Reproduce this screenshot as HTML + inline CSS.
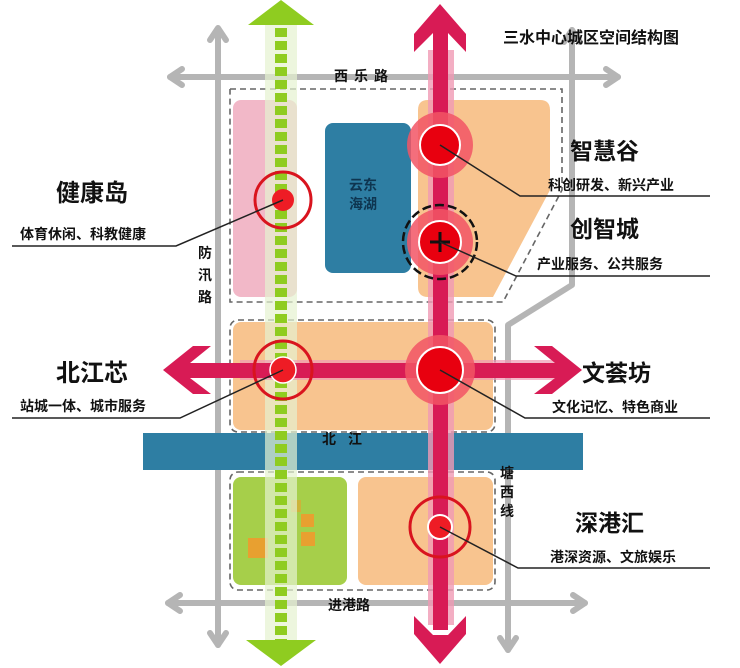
<!DOCTYPE html>
<html><head><meta charset="utf-8"><style>
body{margin:0;background:#fff;}
svg{display:block;font-family:"Liberation Sans","Noto Sans CJK SC",sans-serif;}
.b{font-weight:bold;fill:#111;}
</style></head><body>
<svg width="740" height="668" viewBox="0 0 740 668" xmlns="http://www.w3.org/2000/svg">
<g stroke="#b5b5b5" stroke-width="6" fill="none" stroke-linecap="round" stroke-linejoin="round">
<line x1="218" y1="30" x2="218" y2="645"/>
<polyline points="210,40 218,28 226,40"/>
<polyline points="210,633 218,645 226,633"/>
<polyline points="572,30 572,285 508,325 508,650"/>
<polyline points="564,42 572,30 580,42"/>
<polyline points="500,638 508,650 516,638"/>
<line x1="170" y1="77" x2="618" y2="77"/>
<polyline points="182,69 170,77 182,85"/>
<polyline points="606,69 618,77 606,85"/>
<line x1="168" y1="603" x2="585" y2="603"/>
<polyline points="180,595 168,603 180,611"/>
<polyline points="573,595 585,603 573,611"/>
</g>
<g stroke="#666" stroke-width="1.6" stroke-dasharray="6,4" fill="none">
<polyline points="230,89 562,89 562,190 503,302 230,302 230,89"/>
<rect x="230" y="320" width="265" height="112" rx="8"/>
<rect x="230" y="472" width="265" height="118" rx="8"/>
</g>
<rect x="233" y="100" width="64" height="197" rx="8" fill="#f2b8c8"/>
<rect x="325" y="123" width="86" height="150" rx="8" fill="#2e7ea3"/>
<path d="M428,100 H540 Q550,100 550,110 V190 L493,297 H428 Q418,297 418,287 V110 Q418,100 428,100 Z" fill="#f8c48f"/>
<rect x="233" y="322" width="260" height="108" rx="8" fill="#f8c48f"/>
<rect x="143" y="433" width="440" height="37" fill="#2e7ea3"/>
<rect x="233" y="477" width="114" height="108" rx="8" fill="#a6cf4a"/>
<rect x="358" y="477" width="135" height="108" rx="8" fill="#f8c48f"/>
<rect x="248" y="538" width="20" height="20" fill="#e8a030"/>
<rect x="301" y="514" width="13" height="13" fill="#e8a030"/>
<rect x="301" y="532" width="14" height="14" fill="#e8a030"/>
<rect x="291" y="500" width="10" height="12" fill="#e8a030" opacity="0.6"/>
<rect x="265" y="25" width="32" height="615" fill="#e6f2d0" opacity="0.7"/>
<line x1="281" y1="28" x2="281" y2="640" stroke="#8fcc20" stroke-width="12" stroke-dasharray="9,4"/>
<polygon points="248,25 281,0 314,25" fill="#8fcc20"/>
<polygon points="246,640 316,640 281,666" fill="#8fcc20"/>
<rect x="428" y="50" width="26" height="575" fill="#f09ab4" opacity="0.8"/>
<rect x="240" y="360" width="320" height="20" fill="#f09ab4" opacity="0.7"/>
<rect x="433" y="30" width="15" height="600" fill="#d81b55"/>
<polygon points="440,4 466,34 466,52 448,33 433,33 414,52 414,34" fill="#d81b55"/>
<polygon points="440,664 466,634 466,616 448,635 433,635 414,616 414,634" fill="#d81b55"/>
<rect x="185" y="363" width="375" height="15" fill="#d81b55"/>
<polygon points="163,370 193,346 211,346 190,363 190,378 211,394 193,394" fill="#d81b55"/>
<polygon points="582,370 552,346 534,346 555,363 555,378 534,394 552,394" fill="#d81b55"/>
<g fill="none" stroke="#d9141e" stroke-width="3">
<circle cx="283" cy="200" r="28"/>
<circle cx="283" cy="370" r="29"/>
<circle cx="440" cy="527" r="30"/>
</g>
<circle cx="283" cy="200" r="11" fill="#ee1c25"/>
<circle cx="283" cy="370" r="13" fill="#ee1c25" stroke="#fff" stroke-width="1.5"/>
<circle cx="440" cy="527" r="12" fill="#ee1c25" stroke="#fff" stroke-width="2"/>
<circle cx="440" cy="145" r="33" fill="#f25565" opacity="0.85"/>
<circle cx="440" cy="145" r="20" fill="#e8000f" stroke="#fff" stroke-width="2"/>
<circle cx="440" cy="242" r="33" fill="#f25565" opacity="0.85"/>
<circle cx="440" cy="242" r="37" fill="none" stroke="#111" stroke-width="2.5" stroke-dasharray="9,4"/>
<circle cx="440" cy="242" r="21" fill="#e8000f" stroke="#fff" stroke-width="2"/>
<path d="M440,232 V252 M430,242 H450" stroke="#111" stroke-width="3"/>
<circle cx="440" cy="370" r="35" fill="#f25565" opacity="0.85"/>
<circle cx="440" cy="370" r="23" fill="#e8000f" stroke="#fff" stroke-width="2"/>
<g stroke="#222" stroke-width="1.5" fill="none">
<polyline points="283,200 176,246 12,246"/>
<polyline points="283,370 180,418 12,418"/>
<polyline points="440,145 520,196 710,196"/>
<polyline points="440,242 516,276 710,276"/>
<polyline points="440,370 525,418 710,418"/>
<polyline points="440,527 518,568 710,568"/>
</g>
<text x="503" y="43" class="b" font-size="16">三水中心城区空间结构图</text>
<text x="570" y="159" class="b" font-size="23">智慧谷</text>
<text x="548" y="190" class="b" font-size="14">科创研发、新兴产业</text>
<text x="570" y="237" class="b" font-size="23">创智城</text>
<text x="537" y="269" class="b" font-size="14">产业服务、公共服务</text>
<text x="582" y="381" class="b" font-size="23">文荟坊</text>
<text x="552" y="412" class="b" font-size="14">文化记忆、特色商业</text>
<text x="575" y="531" class="b" font-size="23">深港汇</text>
<text x="550" y="562" class="b" font-size="14">港深资源、文旅娱乐</text>
<text x="56" y="201" class="b" font-size="24">健康岛</text>
<text x="20" y="239" class="b" font-size="14">体育休闲、科教健康</text>
<text x="56" y="381" class="b" font-size="24">北江芯</text>
<text x="20" y="411" class="b" font-size="14">站城一体、城市服务</text>
<text x="334" y="81" class="b" font-size="14" letter-spacing="6">西乐路</text>
<g class="b" font-size="14">
<text x="198" y="258">防</text><text x="198" y="280">汛</text><text x="198" y="302">路</text>
<text x="500" y="478">塘</text><text x="500" y="497">西</text><text x="500" y="516">线</text>
</g>
<text x="322" y="444" class="b" font-size="14" letter-spacing="12">北江</text>
<text x="328" y="610" class="b" font-size="14">进港路</text>
<text x="349" y="190" font-size="14" font-weight="bold" fill="#0e3550">云东</text>
<text x="349" y="209" font-size="14" font-weight="bold" fill="#0e3550">海湖</text>
</svg>
</body></html>
